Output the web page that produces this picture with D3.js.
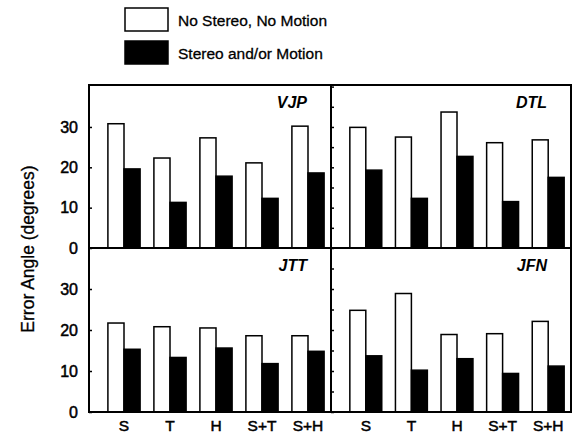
<!DOCTYPE html>
<html>
<head>
<meta charset="utf-8">
<script src="https://cdn.jsdelivr.net/npm/d3@7"></script>
<style>
  body { margin: 0; background: #fff; }
  svg { display: block; font-family: "Liberation Sans", Arial, Helvetica, sans-serif; }
</style>
</head>
<body>
<svg id="chart" width="579" height="436"></svg>
<script>
// data
var categories = ["S", "T", "H", "S+T", "S+H"];
var subjects = ["VJP", "DTL", "JTT", "JFN"];
var seriesNames = ["No Stereo, No Motion", "Stereo and/or Motion"];
var yTicks = [0, 10, 20, 30];

// error angle, no stereo / no motion
var noCues = {
  VJP: [30.8, 22.3, 27.3, 21.1, 30.2],
  DTL: [29.9, 27.5, 33.7, 26.1, 26.8],
  JTT: [21.7, 20.8, 20.5, 18.6, 18.6],
  JFN: [24.8, 28.9, 18.9, 19.1, 22.1]
};
// error angle, stereo and/or motion
var withCues = {
  VJP: [19.6, 11.3, 17.8, 12.3, 18.6],
  DTL: [19.3, 12.3, 22.7, 11.5, 17.5],
  JTT: [15.3, 13.3, 15.6, 11.8, 14.8],
  JFN: [13.7, 10.2, 13.0, 9.4, 11.2]
};

var svg = d3.select("#chart");

// frame layout (window.top is taken, so prefixed names)
var frameL = 89, frameR = 571, frameT = 85, midY = 248, frameB = 412, midX = 331;
var cols = [[frameL, midX], [midX, frameR]];
var rows = [[frameT, midY, 40.4], [midY, frameB, 40]];

// legend
var legend = svg.append("g");
seriesNames.forEach(function(name, i){
  legend.append("rect")
    .attr("x", 125).attr("y", 8 + i * 33)
    .attr("width", 43).attr("height", 23)
    .attr("fill", i == 0 ? "#fff" : "#000")
    .attr("stroke", "#000").attr("stroke-width", 1.5);
  legend.append("text")
    .attr("x", 178).attr("y", 26 + i * 33)
    .attr("font-size", 15.5)
    .attr("stroke", "#000").attr("stroke-width", 0.3)
    .text(name);
});

subjects.forEach(function(subj, k){
  var c = cols[k % 2], r = rows[Math.floor(k / 2)];
  var w = c[1] - c[0];

  var x = d3.scaleBand()
    .domain(categories)
    .range([12, w])
    .paddingInner(0.3)
    .paddingOuter(0.15);

  var y = d3.scaleLinear().domain([0, r[2]]).range([r[1], r[0]]);

  var g = svg.append("g").attr("transform", "translate(" + c[0] + ",0)");

  var bw = x.bandwidth() / 2;
  var bars = g.selectAll(".grp")
    .data(categories)
    .enter().append("g")
    .attr("transform", function(d){ return "translate(" + x(d) + ",0)"; });

  bars.append("rect")
    .attr("x", 0)
    .attr("y", function(d, i){ return y(noCues[subj][i]); })
    .attr("width", bw)
    .attr("height", function(d, i){ return y(0) - y(noCues[subj][i]); })
    .attr("fill", "#fff").attr("stroke", "#000").attr("stroke-width", 1.5);

  bars.append("rect")
    .attr("x", bw)
    .attr("y", function(d, i){ return y(withCues[subj][i]); })
    .attr("width", bw)
    .attr("height", function(d, i){ return y(0) - y(withCues[subj][i]); })
    .attr("fill", "#000").attr("stroke", "#000").attr("stroke-width", 1.5);

  // inner ticks on the panel's left edge
  var yAxis = d3.axisRight(y)
    .tickValues(k % 2 == 0 ? yTicks : d3.range(0, r[2], 5))
    .tickSize(3)
    .tickFormat("");
  var ax = g.append("g").call(yAxis);
  ax.select(".domain").remove();
  ax.selectAll("line").attr("stroke-width", 1.5);

  if (k % 2 == 0) {
    g.selectAll(".ylab")
      .data(yTicks)
      .enter().append("text")
      .attr("x", -11)
      .attr("y", function(d){ return y(d); })
      .attr("dy", "0.36em")
      .attr("text-anchor", "end")
      .attr("font-size", 16)
      .attr("stroke", "#000").attr("stroke-width", 0.5)
      .text(function(d){ return d; });
  }

  // category labels under the bottom row
  if (k >= 2) {
    var xAxis = d3.axisBottom(x).tickSize(0).tickPadding(8);
    var bx = g.append("g")
      .attr("transform", "translate(0," + frameB + ")")
      .call(xAxis);
    bx.select(".domain").remove();
    bx.selectAll("text")
      .attr("font-size", 15.5)
      .attr("font-family", "Liberation Sans, Arial, sans-serif")
      .attr("fill", "#000")
      .attr("stroke", "#000").attr("stroke-width", 0.5);
  }

  g.append("text")
    .attr("x", w - 24)
    .attr("y", r[0] + 23)
    .attr("text-anchor", "end")
    .attr("font-size", 16)
    .attr("font-weight", "bold")
    .attr("font-style", "italic")
    .text(subj);
});

// frame and dividers
svg.append("rect")
  .attr("x", frameL).attr("y", frameT)
  .attr("width", frameR - frameL).attr("height", frameB - frameT)
  .attr("fill", "none").attr("stroke", "#000").attr("stroke-width", 2);
svg.append("line")
  .attr("x1", midX).attr("x2", midX).attr("y1", frameT).attr("y2", frameB)
  .attr("stroke", "#000").attr("stroke-width", 2);
svg.append("line")
  .attr("x1", frameL).attr("x2", frameR).attr("y1", midY).attr("y2", midY)
  .attr("stroke", "#000").attr("stroke-width", 2);

svg.append("text")
  .attr("transform", "translate(34,249) rotate(-90)")
  .attr("text-anchor", "middle")
  .attr("font-size", 17.5)
  .attr("stroke", "#000").attr("stroke-width", 0.3)
  .text("Error Angle (degrees)");
</script>
</body>
</html>
